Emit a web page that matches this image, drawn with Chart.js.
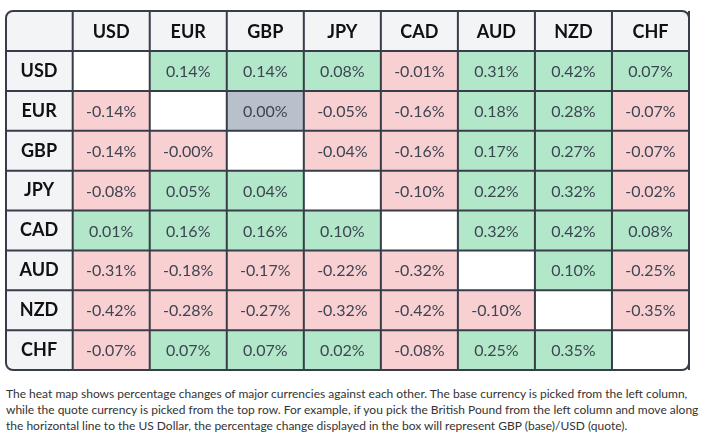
<!DOCTYPE html>
<html><head><meta charset="utf-8">
<script src="https://cdn.jsdelivr.net/npm/chart.js@4"></script>
<style>
html,body{margin:0;padding:0;background:#fff;}
#wrap{position:relative;width:702px;height:380px;}
.cap{margin:6px 0 0 0;padding:0 0 0 6px;font:12px Lato, sans-serif;color:#333;line-height:16px;}
.cap span{display:block;white-space:nowrap;}
</style></head><body>
<div id="wrap"><canvas id="c" width="702" height="380"></canvas></div>
<p class="cap"><span>The heat map shows percentage changes of major currencies against each other. The base currency is picked from the left column,</span><span>while the quote currency is picked from the top row. For example, if you pick the British Pound from the left column and move along</span><span>the horizontal line to the US Dollar, the percentage change displayed in the box will represent GBP (base)/USD (quote).</span></p>
<script>
// Quote currencies (columns) and base currencies (rows)
const quotes = ['USD', 'EUR', 'GBP', 'JPY', 'CAD', 'AUD', 'NZD', 'CHF'];
const bases  = ['USD', 'EUR', 'GBP', 'JPY', 'CAD', 'AUD', 'NZD', 'CHF'];

// Percentage change of base vs quote (null = same currency)
const usd = [null, 0.14, 0.14, 0.08, -0.01, 0.31, 0.42, 0.07];
const eur = [-0.14, null, 0.00, -0.05, -0.16, 0.18, 0.28, -0.07];
const gbp = [-0.14, -0.00, null, -0.04, -0.16, 0.17, 0.27, -0.07];
const jpy = [-0.08, 0.05, 0.04, null, -0.10, 0.22, 0.32, -0.02];
const cad = [0.01, 0.16, 0.16, 0.10, null, 0.32, 0.42, 0.08];
const aud = [-0.31, -0.18, -0.17, -0.22, -0.32, null, 0.10, -0.25];
const nzd = [-0.42, -0.28, -0.27, -0.32, -0.42, -0.10, null, -0.35];
const chf = [-0.07, 0.07, 0.07, 0.02, -0.08, 0.25, 0.35, null];
const rows = [usd, eur, gbp, jpy, cad, aud, nzd, chf];

const GREEN = '#b2e8c9', RED = '#f9d0d2', GRAY = '#b7c0cb', EMPTY = '#ffffff';
const LINE = '#373e49', HEAD_BG = '#f3f4f6';
const isNeg = v => v < 0 || Object.is(v, -0);
const cellColor = v => v === null ? EMPTY : v > 0 ? GREEN : isNeg(v) ? RED : GRAY;
const cellText = v => v === null ? '' : (isNeg(v) ? '-' : '') + Math.abs(v).toFixed(2) + '%';

// one floating-bar dataset per quote column; each bar spans its column on the x scale
const datasets = quotes.map((q, j) => ({
  label: q,
  data: bases.map((b, i) => ({ x: [j, j + 1], y: b, v: rows[i][j] })),
  backgroundColor: bases.map((b, i) => cellColor(rows[i][j])),
  borderWidth: 0,
  grouped: false,
  categoryPercentage: 1,
  barPercentage: 1,
  xAxisID: 'x',
  yAxisID: 'y'
}));

function tablePath(ctx, x, y, w, h, r) {
  ctx.beginPath();
  ctx.moveTo(x + r, y);
  ctx.lineTo(x + w - r, y); ctx.arcTo(x + w, y, x + w, y + r, r);
  ctx.lineTo(x + w, y + h - r); ctx.arcTo(x + w, y + h, x + w - r, y + h, r);
  ctx.lineTo(x + r, y + h); ctx.arcTo(x, y + h, x, y + h - r, r);
  ctx.lineTo(x, y + r); ctx.arcTo(x, y, x + r, y, r);
  ctx.closePath();
}

const tablePlugin = {
  id: 'table',
  beforeDraw(chart) {
    const { ctx, chartArea: ca } = chart;
    const xh = chart.scales.xh, ys = chart.scales.y;
    ctx.save();
    tablePath(ctx, ys.left, xh.top, ca.right - ys.left, ca.bottom - xh.top, 7);
    ctx.clip();
    ctx.fillStyle = HEAD_BG;
    ctx.fillRect(ys.left, xh.top, ca.right - ys.left, ca.top - xh.top);
    ctx.fillRect(ys.left, ca.top, ca.left - ys.left, ca.bottom - ca.top);
    ctx.restore();
  },
  afterDatasetsDraw(chart) {
    const { ctx, chartArea: ca } = chart;
    const xs = chart.scales.x, xh = chart.scales.xh, ys = chart.scales.y;
    ctx.save();
    // cell labels
    ctx.font = '16px Lato';
    ctx.fillStyle = '#3d4552';
    ctx.textAlign = 'center';
    ctx.textBaseline = 'middle';
    chart.data.datasets.forEach((ds, j) => {
      chart.getDatasetMeta(j).data.forEach((el, i) => {
        const t = cellText(ds.data[i].v);
        if (!t) return;
        const p = el.getCenterPoint();
        ctx.fillText(t, p.x, p.y + 1);
      });
    });
    // grid lines
    ctx.strokeStyle = LINE;
    ctx.lineWidth = 2;
    ctx.beginPath();
    for (let k = 0; k <= quotes.length; k++) {
      const x = xs.getPixelForValue(k);
      ctx.moveTo(x, xh.top); ctx.lineTo(x, ca.bottom);
    }
    const band = ys.getPixelForValue(1) - ys.getPixelForValue(0);
    for (let i = 0; i < bases.length; i++) {
      const y = ys.getPixelForValue(i) - band / 2;
      ctx.moveTo(ys.left, y); ctx.lineTo(ca.right, y);
    }
    ctx.stroke();
    tablePath(ctx, ys.left, xh.top, ca.right - ys.left, ca.bottom - xh.top, 7);
    ctx.stroke();
    ctx.restore();
  }
};

const headFont = { family: 'Lato', size: 18, weight: 'bold' };

new Chart(document.getElementById('c'), {
  type: 'bar',
  data: { datasets },
  options: {
    responsive: false,
    animation: false,
    indexAxis: 'y',
    layout: { padding: { left: 6, top: 11, right: 13, bottom: 10 } },
    plugins: { legend: { display: false }, tooltip: { enabled: false } },
    scales: {
      x: { type: 'linear', min: 0, max: quotes.length, display: false },
      xh: {
        type: 'category', labels: quotes, position: 'top', offset: true,
        grid: { display: false, drawTicks: false }, border: { display: false },
        ticks: { font: headFont, color: '#111111', padding: 8, maxRotation: 0, autoSkip: false },
        afterFit(s) { s.height = 40; s.paddingLeft = 0; s.paddingRight = 0; }
      },
      y: {
        type: 'category', labels: bases, offset: true,
        grid: { display: false, drawTicks: false }, border: { display: false },
        ticks: { font: headFont, color: '#111111', crossAlign: 'center', padding: 14, autoSkip: false },
        afterFit(s) { s.width = 66.7; s.paddingTop = 0; s.paddingBottom = 0; }
      }
    }
  },
  plugins: [tablePlugin]
});
</script>
</body></html>
